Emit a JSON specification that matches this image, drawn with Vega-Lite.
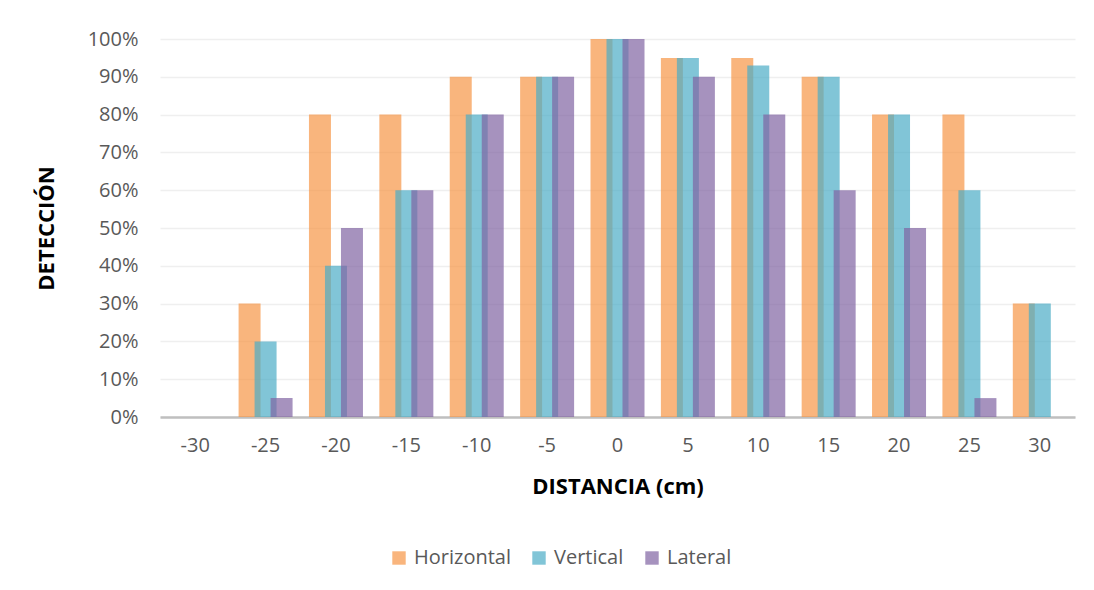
{
  "$schema": "https://vega.github.io/schema/vega-lite/v6.json",
  "autosize": "none",
  "width": 915,
  "height": 378,
  "padding": {"left": 160, "top": 39, "right": 19, "bottom": 173},
  "background": "white",
  "config": {
    "font": "Open Sans",
    "view": {"stroke": null}
  },
  "data": {
    "values": [
      {"d": -30, "serie": "Horizontal", "v": 0},
      {"d": -30, "serie": "Vertical", "v": 0},
      {"d": -30, "serie": "Lateral", "v": 0},
      {"d": -25, "serie": "Horizontal", "v": 0.30},
      {"d": -25, "serie": "Vertical", "v": 0.20},
      {"d": -25, "serie": "Lateral", "v": 0.05},
      {"d": -20, "serie": "Horizontal", "v": 0.80},
      {"d": -20, "serie": "Vertical", "v": 0.40},
      {"d": -20, "serie": "Lateral", "v": 0.50},
      {"d": -15, "serie": "Horizontal", "v": 0.80},
      {"d": -15, "serie": "Vertical", "v": 0.60},
      {"d": -15, "serie": "Lateral", "v": 0.60},
      {"d": -10, "serie": "Horizontal", "v": 0.90},
      {"d": -10, "serie": "Vertical", "v": 0.80},
      {"d": -10, "serie": "Lateral", "v": 0.80},
      {"d": -5, "serie": "Horizontal", "v": 0.90},
      {"d": -5, "serie": "Vertical", "v": 0.90},
      {"d": -5, "serie": "Lateral", "v": 0.90},
      {"d": 0, "serie": "Horizontal", "v": 1.00},
      {"d": 0, "serie": "Vertical", "v": 1.00},
      {"d": 0, "serie": "Lateral", "v": 1.00},
      {"d": 5, "serie": "Horizontal", "v": 0.95},
      {"d": 5, "serie": "Vertical", "v": 0.95},
      {"d": 5, "serie": "Lateral", "v": 0.90},
      {"d": 10, "serie": "Horizontal", "v": 0.95},
      {"d": 10, "serie": "Vertical", "v": 0.93},
      {"d": 10, "serie": "Lateral", "v": 0.80},
      {"d": 15, "serie": "Horizontal", "v": 0.90},
      {"d": 15, "serie": "Vertical", "v": 0.90},
      {"d": 15, "serie": "Lateral", "v": 0.60},
      {"d": 20, "serie": "Horizontal", "v": 0.80},
      {"d": 20, "serie": "Vertical", "v": 0.80},
      {"d": 20, "serie": "Lateral", "v": 0.50},
      {"d": 25, "serie": "Horizontal", "v": 0.80},
      {"d": 25, "serie": "Vertical", "v": 0.60},
      {"d": 25, "serie": "Lateral", "v": 0.05},
      {"d": 30, "serie": "Horizontal", "v": 0.30},
      {"d": 30, "serie": "Vertical", "v": 0.30},
      {"d": 30, "serie": "Lateral", "v": 0}
    ]
  },
  "mark": {"type": "bar", "width": 22, "fillOpacity": 0.7, "strokeWidth": 0},
  "encoding": {
    "x": {
      "field": "d",
      "type": "ordinal",
      "sort": "ascending",
      "scale": {"paddingInner": 0.318, "paddingOuter": 0.159},
      "axis": {
        "title": "DISTANCIA (cm)",
        "titleFont": "Open Sans",
        "titleFontSize": 22,
        "titleFontWeight": "bold",
        "titleColor": "#000000",
        "titlePadding": 21,
        "labelAngle": 0,
        "labelFont": "Open Sans",
        "labelFontSize": 20,
        "labelColor": "#595959",
        "labelPadding": 18,
        "ticks": false,
        "domainColor": "#BFBFBF",
        "domainWidth": 2.5,
        "grid": false
      }
    },
    "xOffset": {
      "field": "serie",
      "type": "nominal",
      "sort": ["Horizontal", "Vertical", "Lateral"],
      "scale": {"paddingInner": 0, "paddingOuter": 0}
    },
    "y": {
      "field": "v",
      "type": "quantitative",
      "scale": {"domain": [0, 1], "nice": false},
      "axis": {
        "title": "DETECCIÓN",
        "titleFont": "Open Sans",
        "titleFontSize": 22,
        "titleFontWeight": "bold",
        "titleColor": "#000000",
        "titlePadding": 29,
        "format": ".0%",
        "values": [0, 0.1, 0.2, 0.3, 0.4, 0.5, 0.6, 0.7, 0.8, 0.9, 1],
        "labelFont": "Open Sans",
        "labelFontSize": 20,
        "labelColor": "#595959",
        "labelPadding": 22,
        "ticks": false,
        "domain": false,
        "gridColor": "#EFEFEF",
        "gridWidth": 1.5
      }
    },
    "color": {
      "field": "serie",
      "type": "nominal",
      "sort": ["Horizontal", "Vertical", "Lateral"],
      "scale": {
        "domain": ["Horizontal", "Vertical", "Lateral"],
        "range": ["#F79646", "#4BACC6", "#8064A2"]
      },
      "legend": {
        "title": null,
        "orient": "none",
        "direction": "horizontal",
        "legendX": 229,
        "legendY": 509,
        "symbolType": "square",
        "symbolSize": 180,
        "symbolOpacity": 0.7,
        "symbolStrokeWidth": 0,
        "labelFont": "Open Sans",
        "labelFontSize": 20,
        "labelColor": "#595959",
        "columnPadding": 18,
        "labelOffset": 5
      }
    },
    "order": {"field": "serie", "sort": "descending"}
  }
}
